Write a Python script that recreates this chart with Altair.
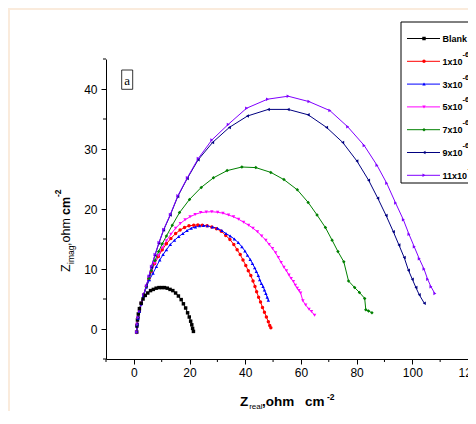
import altair as alt
import pandas as pd

SERIES = ["Blank", "1x10-6 M", "3x10-6 M", "5x10-6 M", "7x10-6 M", "9x10-6 M", "11x10-6 M"]
LEG_MAIN = ["Blank", "1x10", "3x10", "5x10", "7x10", "9x10", "11x10"]
COLORS = ["#000000", "#FF0000", "#0000FF", "#FF00FF", "#008000", "#000080", "#8000FF"]
SHAPES = ["square", "circle", "triangle-up", "triangle-down", "diamond", "triangle-left", "triangle-right"]

X_MAJOR = [0, 20, 40, 60, 80, 100, 120]
X_MINOR = [-10, 10, 30, 50, 70, 90, 110]
Y_MAJOR = [0, 10, 20, 30, 40]
Y_MINOR = [-5, 5, 15, 25, 35, 45]

BLANK = [(1.0, -0.5), (1.1, 0.5), (1.3, 1.5), (1.6, 2.5), (2.0, 3.4), (2.6, 4.3), (3.3, 5.0),
         (4.1, 5.6), (5.0, 6.0), (6.0, 6.4), (7.0, 6.6), (8.0, 6.8), (9.0, 6.9), (10.0, 6.9),
         (11.0, 6.9), (12.0, 6.8), (13.0, 6.6), (14.0, 6.4), (15.0, 6.0), (16.0, 5.5), (17.0, 4.9),
         (17.8, 4.2), (18.6, 3.5), (19.3, 2.7), (19.9, 2.0), (20.4, 1.3), (20.8, 0.7), (21.1, 0.1),
         (21.4, -0.4)]

RED = [(1.0, -0.6), (1.2, 0.8), (1.5, 1.9), (2.0, 3.0), (2.7, 4.3), (3.5, 5.7), (4.5, 7.1),
       (5.4, 8.4), (6.3, 9.6), (7.5, 10.9), (8.8, 12.1), (10.2, 13.2), (11.7, 14.2), (13.3, 15.1),
       (15.0, 15.9), (16.6, 16.5), (18.2, 16.9), (19.8, 17.2), (21.5, 17.3), (23.0, 17.35),
       (24.6, 17.3), (26.3, 17.2), (28.0, 17.0), (29.7, 16.7), (31.4, 16.3), (33.0, 15.6),
       (34.5, 14.9), (35.9, 14.1), (37.1, 13.2), (38.2, 12.4), (39.2, 11.5), (40.2, 10.6),
       (41.1, 9.7), (42.0, 8.9), (42.8, 8.0), (43.5, 7.1), (44.1, 6.2), (44.8, 5.3), (45.5, 4.5),
       (46.2, 3.6), (46.9, 2.8), (47.6, 2.0), (48.3, 1.2), (48.8, 0.6), (49.2, 0.2)]

BLUE = [(1.0, -0.5), (1.2, 0.7), (1.5, 1.8), (2.0, 2.9), (2.7, 4.2), (3.5, 5.5), (4.5, 7.0),
        (5.6, 8.2), (6.9, 9.3), (8.1, 10.4), (9.3, 11.5), (10.5, 12.4), (11.7, 13.2), (13.1, 14.1),
        (14.6, 14.8), (16.1, 15.4), (17.6, 15.9), (19.1, 16.4), (20.6, 16.8), (22.1, 17.0),
        (23.6, 17.2), (25.0, 17.25), (26.4, 17.2), (28.2, 17.0), (30.0, 16.8), (31.6, 16.4),
        (33.1, 15.9), (34.6, 15.5), (36.1, 15.0), (37.5, 14.4), (38.8, 13.7), (39.9, 13.0),
        (40.8, 12.3), (41.8, 11.6), (42.6, 10.9), (43.4, 10.2), (44.0, 9.6), (44.7, 8.9),
        (45.2, 8.2), (45.8, 7.6), (46.4, 7.1), (46.9, 6.5), (47.4, 5.9), (47.9, 5.3), (48.3, 4.8)]

MAGENTA = [(1.0, -0.5), (1.2, 0.8), (1.5, 1.9), (2.0, 3.0), (2.7, 4.3), (3.5, 5.7), (4.5, 7.1),
           (5.4, 8.4), (6.3, 9.6), (7.5, 10.9), (8.8, 12.2), (10.2, 13.5), (11.7, 14.7),
           (13.3, 15.8), (15.0, 16.8), (16.7, 17.6), (18.4, 18.2), (20.2, 18.7), (22.0, 19.1),
           (24.0, 19.4), (26.0, 19.5), (28.0, 19.55), (30.1, 19.45), (32.0, 19.3), (34.0, 19.0),
           (35.8, 18.7), (37.6, 18.3), (39.4, 17.8), (41.2, 17.3), (42.8, 16.8), (44.4, 16.2),
           (45.9, 15.5), (47.4, 14.8), (48.6, 14.1), (49.8, 13.4), (50.9, 12.7), (51.9, 11.9),
           (52.9, 11.1), (53.9, 10.3), (54.8, 9.7), (55.7, 9.0), (56.5, 8.4), (57.3, 7.9),
           (58.0, 7.3), (58.7, 6.8), (59.3, 6.4), (59.9, 6.0), (60.7, 4.7), (61.7, 4.0),
           (62.9, 3.3), (63.8, 2.9), (64.9, 2.3)]

GREEN = [(1.0, -0.5), (1.2, 0.8), (1.5, 1.9), (2.0, 3.0), (2.7, 4.3), (3.5, 5.7), (4.5, 7.1),
         (5.4, 8.4), (6.3, 9.7), (7.6, 11.4), (8.9, 12.9), (10.2, 14.2), (11.7, 15.5),
         (13.8, 17.3), (16.4, 19.4), (20.0, 21.6), (24.2, 23.6), (28.6, 25.2), (33.5, 26.4),
         (38.8, 27.0), (43.8, 26.9), (49.2, 26.1), (53.9, 24.9), (58.7, 23.2), (62.6, 21.1),
         (65.8, 19.0), (68.8, 16.9), (71.2, 14.8), (73.3, 12.9), (75.4, 11.2), (77.1, 8.0),
         (79.3, 6.9), (81.0, 6.1), (82.9, 5.1), (83.3, 3.2), (84.3, 3.0), (85.5, 2.7)]

NAVY = [(1.0, -0.5), (1.2, 0.8), (1.5, 1.9), (2.0, 3.0), (2.7, 4.3), (3.5, 5.7), (4.5, 7.2),
        (5.4, 8.8), (6.3, 10.3), (7.6, 12.3), (9.0, 14.3), (10.7, 16.5), (13.1, 19.0),
        (15.8, 22.1), (19.2, 25.1), (23.1, 28.2), (28.3, 31.1), (34.3, 33.6), (40.8, 35.5),
        (48.3, 36.6), (55.4, 36.6), (62.6, 35.7), (69.2, 33.6), (75.0, 31.1), (80.1, 28.0),
        (84.3, 24.8), (87.6, 21.8), (90.6, 18.9), (93.2, 16.2), (95.2, 14.0), (97.1, 11.9),
        (98.6, 9.8), (100.0, 8.3), (101.3, 6.9), (102.5, 5.7), (104.3, 4.3)]

PURPLE = [(1.0, -0.5), (1.2, 0.8), (1.5, 1.9), (2.0, 3.0), (2.7, 4.3), (3.5, 5.7), (4.5, 7.2),
          (5.4, 8.8), (6.3, 10.4), (7.6, 12.4), (9.0, 14.4), (10.7, 16.6), (13.1, 19.1),
          (15.8, 22.2), (19.2, 25.2), (23.1, 28.4), (28.0, 31.5), (33.9, 34.1), (40.5, 36.8),
          (48.0, 38.3), (55.4, 38.8), (62.9, 37.9), (70.4, 36.4), (76.8, 33.7), (82.7, 30.6),
          (87.3, 27.3), (90.8, 24.3), (94.0, 21.0), (96.8, 18.2), (98.8, 15.8), (100.7, 13.7),
          (102.5, 11.7), (104.2, 10.0), (105.5, 8.3), (106.7, 7.05), (108.1, 5.9)]

ALL = [BLANK, RED, BLUE, MAGENTA, GREEN, NAVY, PURPLE]

rows = []
for s, pts in zip(SERIES, ALL):
    for i, (xv, yv) in enumerate(pts):
        rows.append({"series": s, "x": xv, "y": yv, "idx": i})
df = pd.DataFrame(rows)

W, H = 362, 300
XS = alt.Scale(domain=[-10, 120], nice=False, zero=False)
YS = alt.Scale(domain=[-5, 45], nice=False, zero=False)
FONT = "Liberation Sans"

x_axis = alt.Axis(values=X_MAJOR, title=None, grid=False, tickSize=5, tickColor="black",
                  domainColor="black", labelColor="black", labelFont=FONT, labelFontSize=12,
                  labelPadding=3, labelFlush=False, labelOverlap=False, labelBound=False, zindex=1)
y_axis = alt.Axis(values=Y_MAJOR, title=None, grid=False, tickSize=5, tickColor="black",
                  domainColor="black", labelColor="black", labelFont=FONT, labelFontSize=12,
                  labelPadding=4, labelFlush=False, labelOverlap=False, labelBound=False, zindex=1)

cscale = alt.Scale(domain=SERIES, range=COLORS)
sscale = alt.Scale(domain=SERIES, range=SHAPES)

base = alt.Chart(df).encode(
    x=alt.X("x:Q", scale=XS, axis=x_axis),
    y=alt.Y("y:Q", scale=YS, axis=y_axis),
    color=alt.Color("series:N", scale=cscale, legend=None),
    order=alt.Order("idx:Q"),
)
lines = base.mark_line(strokeWidth=1, clip=False)
points = base.mark_point(filled=True, size=12, opacity=1, clip=False).encode(
    shape=alt.Shape("series:N", scale=sscale, legend=None)
)

xminor = alt.Chart(pd.DataFrame({"x": X_MINOR})).mark_rule(color="black", strokeWidth=1).encode(
    x=alt.X("x:Q", scale=XS, axis=x_axis), y=alt.value(H), y2=alt.value(H + 3)
)
yminor = alt.Chart(pd.DataFrame({"y": Y_MINOR})).mark_rule(color="black", strokeWidth=1).encode(
    y=alt.Y("y:Q", scale=YS, axis=y_axis), x=alt.value(-3), x2=alt.value(0)
)

one = pd.DataFrame({"k": [0]})


def txt(t, x, y, size, bold=False, angle=0, font=FONT, baseline="alphabetic", align="left"):
    kw = dict(fontSize=size, font=font, fontWeight="bold" if bold else "normal",
              color="black", align=align, baseline=baseline)
    if angle:
        kw["angle"] = angle
    return alt.Chart(one).mark_text(**kw).encode(
        x=alt.value(x), y=alt.value(y), text=alt.value(t)
    )


layers = [lines, points]
layers.insert(0, alt.Chart(one).mark_rect(fill="white").encode(
    x=alt.value(-96), x2=alt.value(W + 20), y=alt.value(-49), y2=alt.value(H + 70)))
layers += [xminor, yminor]

# "a" label box
layers.append(alt.Chart(one).mark_rect(fill="white", stroke="black", strokeWidth=0.8).encode(
    x=alt.value(15.7), x2=alt.value(26.7), y=alt.value(11), y2=alt.value(30.3)))
layers.append(txt("a", 21.2, 25.5, 13, font="Liberation Serif", align="center"))

# x title
layers.append(txt("Z", 134, 347, 13.5, bold=True))
layers.append(txt("real", 143.2, 350.3, 8))
layers.append(txt(",ohm", 156, 347, 13.5, bold=True))
layers.append(txt("cm", 199, 347, 13.5, bold=True))
layers.append(txt("-2", 221, 340.5, 8.5, bold=True))

# y title (rotated)
layers.append(txt("Z", -36.5, 213, 12.5, angle=270))
layers.append(txt("imag", -32.5, 205, 8.5, angle=270))
layers.append(txt(",ohm", -36.5, 187, 12.5, angle=270))
layers.append(txt("cm", -36.5, 156, 12.5, bold=True, angle=270))
layers.append(txt("-2", -45, 138, 8.5, bold=True, angle=270))

# legend
layers.append(alt.Chart(one).mark_rect(fill="white", stroke="black", strokeWidth=1).encode(
    x=alt.value(295), x2=alt.value(400), y=alt.value(-37), y2=alt.value(124)))
for i, (s, m, c, sh) in enumerate(zip(SERIES, LEG_MAIN, COLORS, SHAPES)):
    ry = -20.5 + 22.8 * i
    layers.append(alt.Chart(one).mark_rule(color=c, strokeWidth=1).encode(
        x=alt.value(301), x2=alt.value(334), y=alt.value(ry)))
    layers.append(alt.Chart(one).mark_point(filled=True, size=12, shape=sh, color=c, opacity=1).encode(
        x=alt.value(318), y=alt.value(ry)))
    layers.append(txt(m, 336.5, ry + 3.5, 9, bold=True))
    if i > 0:
        wm = 20.0 if len(m) == 4 else 25.0
        layers.append(txt("-6", 336.5 + wm, ry - 4.5, 7.5, bold=True))
        layers.append(txt("M", 336.5 + wm + 6.5, ry + 1.5, 9, bold=True))

chart = alt.layer(*layers).properties(
    width=W, height=H,
    autosize=alt.AutoSizeParams(type="none"),
    padding={"left": 98, "top": 51, "right": 0, "bottom": 52},
    background="#FAEBDC",
).configure_view(strokeWidth=0)

chart.save("out.html", embed_options={"renderer": "svg", "actions": False})
